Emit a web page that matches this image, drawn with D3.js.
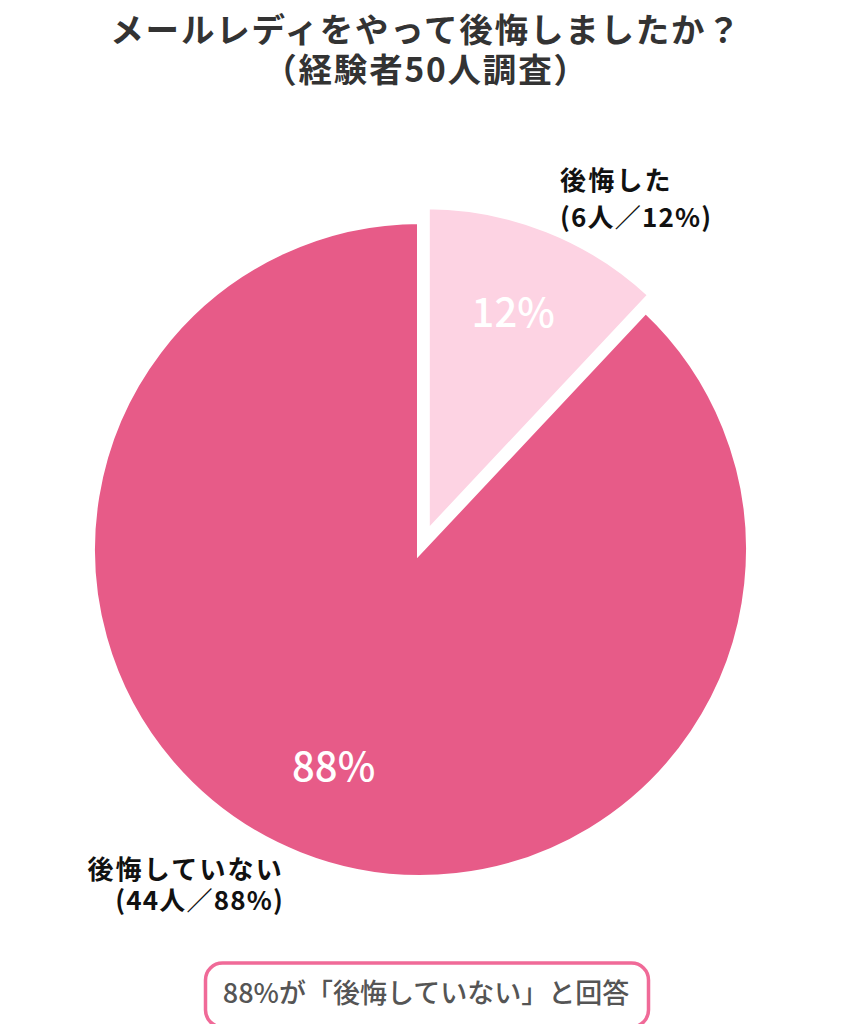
<!DOCTYPE html>
<html>
<head>
<meta charset="utf-8">
<script src="https://cdn.jsdelivr.net/npm/d3@7"></script>
<style>
  html, body { margin: 0; padding: 0; background: #ffffff; }
  svg { display: block; }
  text { font-family: "Noto Sans CJK JP", "Noto Sans", sans-serif; }
</style>
</head>
<body>
<svg id="chart" width="852" height="1024"></svg>
<script>
// ---- data ----
const titleLines = ["メールレディをやって後悔しましたか？", "（経験者50人調査）"];
const categories = ["後悔した", "後悔していない"];
const counts = [6, 44];
const percents = [12, 88];
const sliceColors = ["#FDD3E3", "#E75B88"];
const exploded = [true, false];
const summaryText = "88%が「後悔していない」と回答";

// ---- layout ----
const W = 852, H = 1024;
const cx = 420.5, cy = 549.5, R = 329;
const explodeDist = 15.8;
const labelR = 236;

const svg = d3.select("#chart");

// title
svg.selectAll("text.title")
  .data(titleLines)
  .join("text")
  .attr("class", "title")
  .attr("x", W / 2)
  .attr("y", (d, i) => 42 + i * 40)
  .attr("text-anchor", "middle")
  .attr("font-size", 33.5)
  .attr("font-weight", 700)
  .attr("letter-spacing", 1.8)
  .attr("fill", "#333333")
  .text(d => d);

const data = categories.map((c, i) => ({ cat: c, count: counts[i], pct: percents[i], color: sliceColors[i], exploded: exploded[i] }));

const pie = d3.pie().sort(null).value(d => d.count).startAngle(0).endAngle(2 * Math.PI);
const arcs = pie(data);

const arc = d3.arc().innerRadius(0).outerRadius(R);
const labelArc = d3.arc().innerRadius(labelR).outerRadius(labelR);

function offset(d) {
  if (!d.data.exploded) return [0, 0];
  const a = (d.startAngle + d.endAngle) / 2;
  return [explodeDist * Math.sin(a), -explodeDist * Math.cos(a)];
}

const g = svg.append("g").attr("transform", `translate(${cx},${cy})`);

// draw non-exploded first
const order = arcs.slice().sort((a, b) => (a.data.exploded ? 1 : 0) - (b.data.exploded ? 1 : 0));

g.selectAll("path.slice")
  .data(order)
  .join("path")
  .attr("class", "slice")
  .attr("d", arc)
  .attr("transform", d => { const o = offset(d); return `translate(${o[0]},${o[1]})`; })
  .attr("fill", d => d.data.color)
  .attr("stroke", "#ffffff")
  .attr("stroke-width", 7)
  .attr("stroke-linejoin", "miter")
  .attr("stroke-miterlimit", 10);

// inner percent labels
g.selectAll("text.pct")
  .data(arcs)
  .join("text")
  .attr("class", "pct")
  .attr("transform", d => {
    const c = labelArc.centroid(d);
    const o = offset(d);
    return `translate(${c[0] + o[0]},${c[1] + o[1] - 5})`;
  })
  .attr("text-anchor", "middle")
  .attr("dominant-baseline", "central")
  .attr("font-size", 40)
  .attr("font-weight", 500)
  .attr("fill", "#ffffff")
  .text(d => d.data.pct + "%");

// outer category labels
const outerLabels = [
  { x: 560, y: 190, anchor: "start", lines: [categories[0], `(${counts[0]}人／${percents[0]}%)`], dy: 37 },
  { x: 284, y: 879, anchor: "end", lines: [categories[1], `(${counts[1]}人／${percents[1]}%)`], dy: 31 }
];
outerLabels.forEach(l => {
  svg.append("g").selectAll("text")
    .data(l.lines)
    .join("text")
    .attr("x", l.x)
    .attr("y", (d, i) => l.y + i * l.dy)
    .attr("text-anchor", l.anchor)
    .attr("font-size", 26)
    .attr("font-weight", 700)
    .attr("letter-spacing", (d, i) => i === 0 ? 2.2 : 1.2)
    .attr("fill", "#111111")
    .text(d => d);
});

// summary box
svg.append("rect")
  .attr("x", 205.5)
  .attr("y", 963)
  .attr("width", 443)
  .attr("height", 64)
  .attr("rx", 17)
  .attr("fill", "#ffffff")
  .attr("stroke", "#F06A98")
  .attr("stroke-width", 3.5);

svg.append("text")
  .attr("x", 426)
  .attr("y", 1003)
  .attr("text-anchor", "middle")
  .attr("font-size", 27)
  .attr("font-weight", 500)
  .attr("fill", "#555555")
  .text(summaryText);
</script>
</body>
</html>
